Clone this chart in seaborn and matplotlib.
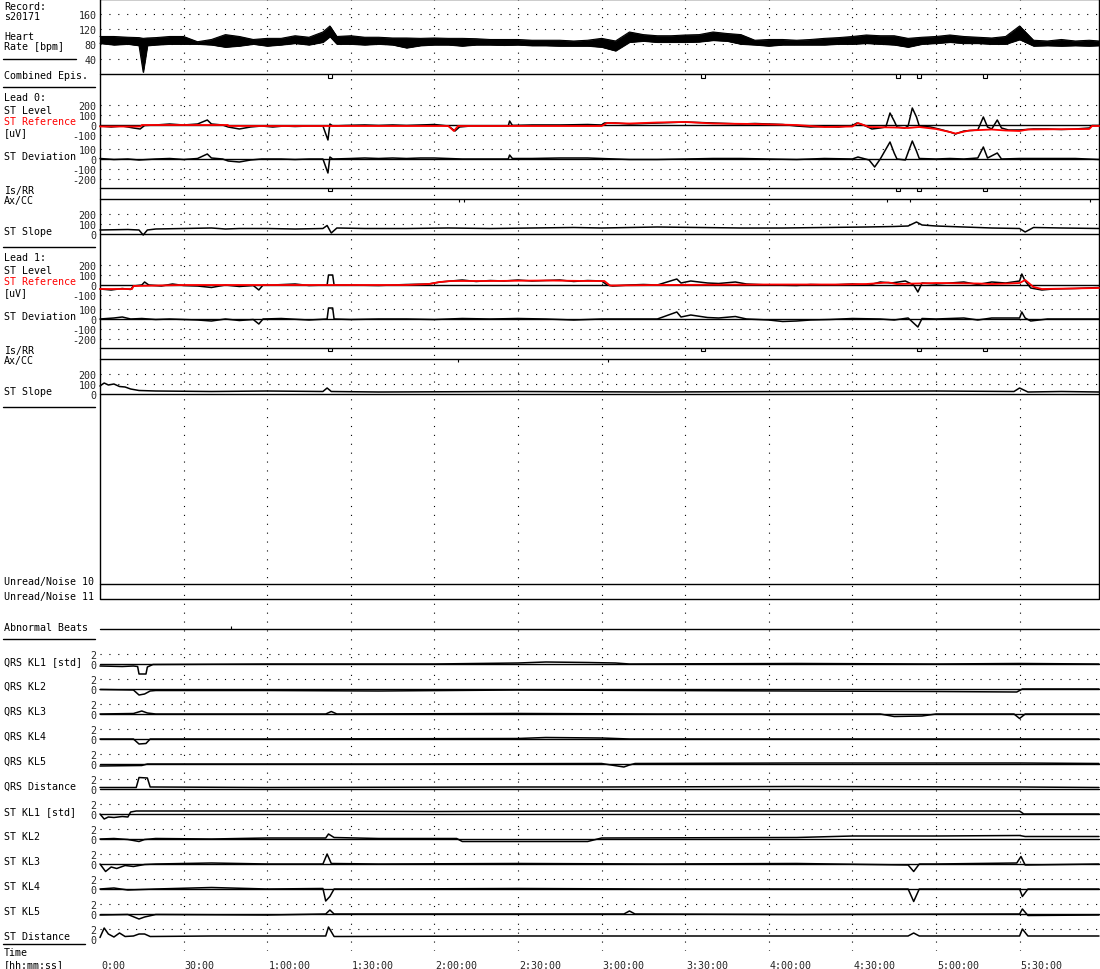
import matplotlib
matplotlib.use('Agg')
import matplotlib.pyplot as plt
import matplotlib.transforms as mtransforms
import seaborn as sns

T_END = 358.5
grid_t = [30, 60, 90, 120, 150, 180, 210, 240, 270, 300, 330]
time_labels = ['0:00', '30:00', '1:00:00', '1:30:00', '2:00:00', '2:30:00', '3:00:00',
               '3:30:00', '4:00:00', '4:30:00', '5:00:00', '5:30:00']
time_ticks = [0, 30, 60, 90, 120, 150, 180, 210, 240, 270, 300, 330]

# frequencia cardiaca (envelope minimo / maximo a cada 5 min)
hr_t = [0, 5, 10, 14, 15.5, 17, 20, 25, 30, 35, 40, 45, 50, 55, 60, 65, 70, 75, 80, 82.5,
        85, 90, 95, 100, 105, 110, 115, 120, 125, 130, 135, 140, 145, 150, 155, 160, 165,
        170, 175, 180, 185, 190, 195, 200, 205, 210, 215, 220, 225, 230, 235, 240, 245,
        250, 255, 260, 265, 270, 275, 280, 285, 290, 295, 300, 305, 310, 315, 320, 325,
        330, 335, 340, 345, 350, 355, 358.5]
hr_low = [82, 78, 80, 76, 5, 76, 78, 80, 80, 80, 78, 72, 75, 80, 75, 78, 82, 78, 85, 100,
          80, 80, 78, 80, 78, 70, 76, 78, 78, 75, 78, 78, 77, 78, 76, 76, 75,
          75, 75, 72, 62, 85, 88, 85, 85, 85, 86, 90, 88, 80, 78, 75, 78,
          78, 78, 78, 80, 80, 82, 80, 78, 72, 80, 82, 85, 82, 82, 80, 80,
          92, 75, 76, 75, 76, 75, 76]
hr_high = [100, 100, 98, 97, 95, 96, 97, 100, 100, 86, 92, 105, 100, 92, 95, 95, 102, 98, 112, 128,
           100, 102, 98, 98, 96, 96, 95, 96, 95, 95, 94, 92, 92, 92, 90, 90, 90,
           88, 90, 95, 88, 112, 105, 102, 102, 104, 105, 112, 108, 105, 90, 92, 92,
           90, 92, 95, 97, 100, 104, 102, 102, 95, 98, 100, 104, 100, 98, 96, 100,
           128, 90, 88, 92, 88, 90, 88]

# episodios
comb_ep_t = [82.5, 216.4, 286.3, 293.9, 317.5]
isrr0_t = [82.5, 286.3, 293.9, 317.5]
axcc0_t = [129.0, 130.5, 282.5, 290.6, 355.2]
isrr1_t = [82.5, 216.4, 293.9, 317.5]
axcc1_t = [128.5, 182.3]
abnormal_t = [47.0]

# Lead 0
st0_level_t = [0, 4, 8, 12, 14.4, 16, 20, 25, 30, 35, 38.5, 40, 44, 46, 50, 54, 58, 62, 66, 70,
               75, 80, 81.8, 82.5, 83.5, 88, 95, 100, 105, 110, 115, 120, 125, 127.4, 129, 133,
               140, 146.5, 147, 148, 155, 165, 175, 180, 181, 185, 190, 195, 200, 205, 210,
               215, 220, 225, 230, 235, 240, 245, 250, 255, 260, 265, 270, 271.6, 274, 277,
               279.9, 282, 283.5, 285, 286, 288.8, 290, 291.5, 293, 294, 298, 301, 305, 307,
               310, 315, 317, 318.5, 320, 322, 323.5, 326, 330, 335, 340, 345, 350, 355, 356,
               358.5]
st0_level = [-10, -20, -10, -30, -40, -5, 0, 10, 0, 10, 50, 10, 0, -20, -40, -20, -10, -20, -10, -15,
             -10, -10, -150, 10, -10, -5, 0, -5, 0, -5, 0, 5, -10, -60, -20, -10,
             -10, -10, 40, -5, 0, 0, 5, 0, 20, 20, 10, 15, 20, 25, 30,
             25, 20, 15, 10, 15, 10, 5, -10, -20, -15, -20, -5, 20, 0, -40,
             -30, -20, 120, 40, -20, -30, -10, 170, 80, -10, -20, -40, -70, -90,
             -60, -50, 80, -20, -40, 50, -30, -50, -50, -40, -40, -45, -40, -30, -5,
             -5]
st0_ref_t = [0, 14.5, 15, 45.9, 46, 125, 127, 128.5, 180, 182, 190, 200, 210, 220, 235, 250,
             260, 270, 272, 276, 285, 290, 294, 300, 305, 307, 312, 320, 325, 330, 333, 355,
             356, 358.5]
st0_ref = [-15, -15, 0, 0, -10, -10, -60, -10, -10, 20, 15, 25, 30, 15, 10, 0,
           -20, -15, 20, -20, -25, -30, -20, -40, -70, -85, -55, -45, -55, -60, -45, -40,
           -10, -10]
st0_dev_t = [0, 5, 10, 14, 20, 25, 30, 35, 38.5, 40, 44, 46, 50, 54, 58, 65, 70, 75, 80, 81.8,
             82.5, 83.5, 90, 95, 100, 105, 110, 115, 120, 125, 130, 140, 146.5, 147, 148, 155,
             165, 175, 180, 185, 190, 200, 210, 220, 230, 240, 250, 260, 270, 272, 276, 278,
             280, 283.5, 285, 286, 289, 291.5, 293, 294, 300, 305, 310, 315, 317, 318.5, 322,
             323.5, 330, 340, 350, 358.5]
st0_dev = [5, -5, 0, -10, 0, 5, -5, 5, 50, 10, 0, -20, -30, -10, 0, 0, -5, 0, 0, -140,
           20, 0, 5, 10, 5, 10, 5, 10, 10, 5, 0, 0, 0, 40, 5, 5,
           10, 10, 5, 0, -5, -5, 0, 5, 5, 0, -5, 5, 0, 20, -10, -80,
           0, 170, 60, 0, -10, 180, 80, 5, 0, 5, 0, 10, 120, 10, 60,
           0, 5, 5, 5, -5]
st0_slope_t = [0, 10, 14, 15.5, 17, 20, 30, 40, 45, 50, 60, 70, 80, 81.5, 83, 85, 95, 110, 125,
               140, 155, 170, 180, 190, 200, 215, 230, 245, 260, 275, 285, 290, 293, 295, 300,
               310, 320, 330, 332, 335, 345, 358.5]
st0_slope = [40, 45, 40, -10, 40, 50, 55, 60, 50, 55, 55, 50, 55, 85, 10, 60, 55, 55, 60,
             55, 60, 65, 60, 65, 70, 65, 60, 60, 65, 70, 75, 80, 120, 90, 80,
             70, 60, 55, 20, 65, 60, 55]

# Lead 1
st1_level_t = [0, 4, 8, 11, 12, 15, 16, 17.5, 22, 26, 30, 35, 40, 45, 50, 55, 57, 58.5, 62, 70,
               75, 81.5, 82, 83.5, 84, 90, 100, 110, 118, 122, 126, 130, 135, 140, 145, 150, 155,
               160, 165, 170, 175, 180, 182, 184, 190, 195, 200, 207, 208.5, 212, 218, 222, 228,
               232, 240, 250, 255, 262, 270, 276, 280, 284, 289, 292, 293.5, 295, 300, 305, 310,
               315, 320, 325, 330, 330.8, 332, 334, 338, 342, 350, 358.5]
st1_level = [-40, -50, -35, -45, -10, 0, 30, 0, -10, 10, -5, -10, -25, 0, -15, -5, -50, 0, 0, 10,
             -5, 0, 100, 100, 0, 0, -5, 5, 10, 30, 40, 50, 35, 45, 40, 50, 40,
             45, 50, 35, 45, 40, 0, -10, 0, 5, 0, 60, 20, 40, 20, 15, 30,
             10, 0, -5, 5, 0, 10, 0, 30, 20, 40, 0, -70, 20, 10, 20, 30,
             5, 30, 20, 40, 110, 40, -30, -50, -40, -35, -25]
st1_ref_t = [0, 11.5, 12, 30, 60, 100, 110, 118, 122, 126, 140, 160, 175, 181, 183, 200, 240,
             265, 275, 283, 286, 300, 315, 320, 326, 330, 332, 335, 338, 358.5]
st1_ref = [-40, -40, -10, 0, 0, 0, 0, 10, 30, 40, 40, 45, 40, 40, -5, 0, 5,
           5, 10, 25, 10, 20, 15, 10, 15, 20, 50, -20, -40, -30]
st1_dev_t = [0, 5, 8, 11, 15, 20, 25, 30, 35, 40, 45, 50, 55, 57, 58.5, 65, 75, 81.5, 82, 83.5,
             84, 90, 100, 110, 120, 130, 140, 150, 160, 170, 180, 190, 200, 207, 208.5, 212,
             218, 222, 228, 232, 240, 245, 250, 255, 262, 270, 280, 285, 290, 293.5, 295, 300,
             310, 315, 320, 330, 330.8, 332, 334, 340, 350, 358.5]
st1_dev = [0, 10, 20, 0, 5, -5, 0, -5, -10, -20, 0, -15, -5, -50, 0, 5, -10, 0, 110, 110,
           0, -5, 0, 0, -5, 5, 0, 5, 0, -10, 0, 0, 0, 70, 20, 40,
           15, 10, 25, 0, -10, -25, -20, -10, -5, 5, 0, -10, 10, -80, 5, 0,
           10, -10, 10, 10, 70, 10, -20, 0, 0, 0]
st1_slope_t = [0, 1.5, 3, 5, 7, 9, 11, 14, 20, 40, 60, 80, 81.5, 83, 100, 150, 200, 250, 300,
               328, 330, 333, 345, 358.5]
st1_slope = [80, 110, 90, 100, 75, 70, 50, 35, 30, 25, 30, 25, 60, 25, 20, 25, 20, 25, 30,
             25, 60, 20, 25, 20]

# series KL (em desvios padrao)
qrs_kl1_t = [0, 8, 12, 13.5, 14, 16.5, 17, 19, 60, 120, 150, 160, 175, 185, 190, 250, 300, 330, 358.5]
qrs_kl1 = [-0.4, -0.5, -0.4, -0.5, -2, -2, -0.6, -0.1, 0, 0, 0.2, 0.4, 0.3, 0.2, 0, 0.1, 0, 0.1, 0]
qrs_kl2_t = [0, 12, 14, 16, 18, 20, 60, 100, 150, 200, 250, 300, 329, 331, 358.5]
qrs_kl2 = [-0.1, -0.2, -1.2, -1.0, -0.4, -0.3, -0.3, -0.4, -0.2, -0.3, -0.4, -0.5, -0.6, 0.0, 0.0]
qrs_kl3_t = [0, 12, 15, 17, 20, 60, 81, 83, 85, 150, 200, 280, 285, 295, 300, 328, 330, 332, 358.5]
qrs_kl3 = [0, 0.1, 0.6, 0.2, 0, 0, 0, 0.5, 0, 0.1, 0, 0, -0.5, -0.4, 0, 0, -0.9, 0, 0]
qrs_kl4_t = [0, 12, 14, 16.5, 18, 60, 150, 160, 180, 190, 250, 358.5]
qrs_kl4 = [0, 0, -1, -0.9, 0, 0, 0.1, 0.3, 0.2, 0, 0, 0]
qrs_kl5_t = [0, 15, 17, 100, 180, 188, 190, 192, 250, 330, 358.5]
qrs_kl5 = [-0.4, -0.3, 0, 0, 0.1, -0.6, -0.2, 0.1, 0.2, 0.2, 0.1]
qrs_dist_t = [0, 13, 14, 17, 18, 60, 150, 180, 250, 330, 358.5]
qrs_dist = [0.3, 0.3, 2.3, 2.2, 0.4, 0.3, 0.4, 0.4, 0.5, 0.4, 0.3]
st_kl1_t = [0, 1.5, 3, 5, 8, 10, 11, 13, 60, 120, 180, 250, 330, 331.5, 358.5]
st_kl1 = [0, -1, -0.6, -0.7, -0.5, -0.6, 0.4, 0.6, 0.6, 0.5, 0.6, 0.6, 0.6, 0, 0]
st_kl2_t = [0, 5, 10, 14, 16, 20, 40, 60, 81, 82, 84, 100, 128, 130, 175, 180, 250, 270, 300,
            330, 332, 358.5]
st_kl2 = [0, 0.1, -0.1, -0.5, -0.1, 0.1, 0, 0.2, 0.2, 1.0, 0.3, 0.1, 0.1, -0.5, -0.5, 0.2, 0.3,
          0.6, 0.6, 0.7, 0.5, 0.5]
st_kl3_t = [0, 2, 4, 6, 9, 12, 16, 20, 40, 60, 80, 81.5, 83, 100, 150, 200, 250, 290, 292, 294,
            300, 329, 330.5, 332, 358.5]
st_kl3 = [0, -1.5, -0.6, -0.9, -0.3, -0.5, -0.1, 0, 0.2, 0, 0, 2.0, 0.1, 0, 0.1, 0, 0.1, -0.2,
          -1.5, 0, 0, 0.2, 1.5, -0.2, 0]
st_kl4_t = [0, 5, 10, 20, 40, 60, 80, 81, 82.5, 84, 100, 150, 200, 250, 290, 292, 294, 300, 330,
            331, 333, 358.5]
st_kl4 = [0, 0.2, -0.2, 0, 0.3, 0, 0.1, -2.4, -1.5, 0, 0, 0.1, 0, 0, 0, -2.5, 0, 0, 0, -1.5, 0, 0]
st_kl5_t = [0, 10, 14, 16, 20, 60, 81, 82.5, 84, 150, 188, 190, 192, 250, 330, 331, 333, 358.5]
st_kl5 = [-0.2, -0.1, -1, -0.6, -0.1, -0.2, 0, 0.8, 0, 0, 0, 0.6, 0, -0.1, 0, 1.0, -0.3, -0.2]
st_dist_t = [0, 1.5, 3, 5, 7, 9, 12, 14, 16, 18, 40, 81, 82, 84, 150, 250, 290, 292, 294, 330,
             331, 333, 358.5]
st_dist = [0.3, 2.2, 1.0, 0.4, 1.2, 0.5, 0.6, 1.0, 1.0, 0.5, 0.6, 0.6, 2.4, 0.5, 0.6, 0.6, 0.6,
           1.2, 0.6, 0.6, 2.0, 0.6, 0.6]

kl_names = ['QRS KL1 [std]', 'QRS KL2', 'QRS KL3', 'QRS KL4', 'QRS KL5', 'QRS Distance',
            'ST KL1 [std]', 'ST KL2', 'ST KL3', 'ST KL4', 'ST KL5', 'ST Distance']
kl_series = [(qrs_kl1_t, qrs_kl1), (qrs_kl2_t, qrs_kl2), (qrs_kl3_t, qrs_kl3),
             (qrs_kl4_t, qrs_kl4), (qrs_kl5_t, qrs_kl5), (qrs_dist_t, qrs_dist),
             (st_kl1_t, st_kl1), (st_kl2_t, st_kl2), (st_kl3_t, st_kl3),
             (st_kl4_t, st_kl4), (st_kl5_t, st_kl5), (st_dist_t, st_dist)]

# ---- estilo ----
sns.set_style('white')
plt.rcParams['font.family'] = ['DejaVu Sans Mono', 'DejaVu Sans']
FS = 7.2
LW = 1.0
GRID = dict(color='black', lw=0.8, ls=(0, (1, 7)))
W, H = 1100, 970
L, R = 100, 1099
EP_W = 1.45

fig = plt.figure(figsize=(W / 100, H / 100), dpi=100)
fig.patch.set_facecolor('white')

# eixo em pixels para rotulos e separadores
ax_pix = fig.add_axes([0, 0, 1, 1])
ax_pix.set_xlim(0, W)
ax_pix.set_ylim(H, 0)
ax_pix.axis('off')


def panel(top, bottom, ylim, yticks=()):
    ax = fig.add_axes([L / W, 1 - bottom / H, (R - L) / W, (bottom - top) / H])
    ax.set_xlim(0, T_END)
    ax.set_ylim(*ylim)
    ax.patch.set_alpha(0)
    for s in ax.spines.values():
        s.set_visible(False)
    ax.set_xticks([])
    ax.set_yticks(list(yticks))
    ax.set_yticklabels([str(v) for v in yticks])
    ax.tick_params(axis='y', length=0, pad=2.5, labelsize=FS)
    return ax


def trace(ax, t, v, color='black', lw=1.1):
    sns.lineplot(x=t, y=v, ax=ax, color=color, lw=lw, estimator=None, sort=False,
                 clip_on=False)
    ax.set_xlabel('')
    ax.set_ylabel('')


def solid(ax, y):
    ax.axhline(y, color='black', lw=LW, clip_on=False)


# grade vertical e moldura
ax_bg = panel(0, 952, (0, 1))
ax_bg.vlines(grid_t, 0, 1, **GRID)
ax_box = panel(0, 600, (0, 1))
ax_box.vlines([0, T_END], 0, 1, color='black', lw=LW, clip_on=False)

# frequencia cardiaca
ax_hr = panel(0, 75, (0, 200), [160, 120, 80, 40])
for g in (160, 120, 80, 40):
    ax_hr.axhline(g, **GRID)
ax_hr.fill_between(hr_t, hr_low, hr_high, color='black', lw=0.6)
trace(ax_hr, hr_t, hr_low, lw=0.8)
trace(ax_hr, hr_t, hr_high, lw=0.8)
solid(ax_hr, 0)
solid(ax_hr, 200)

# episodios combinados
ax_ep = panel(75, 89, (-14, 0))
ax_ep.bar(comb_ep_t, 3.5, width=EP_W, bottom=-3.5, facecolor='white', edgecolor='black', lw=0.8)


def lead_block(off, lvl_t, lvl, ref_t, ref, dev_t, dev, slp_t, slp, isrr_t, axcc_t):
    a = panel(96 + off, 143 + off, (-170, 300), [200, 100, 0, -100])
    for g in (200, 100, -100):
        a.axhline(g, **GRID)
    solid(a, 0)
    trace(a, lvl_t, lvl)
    trace(a, ref_t, ref, color='red', lw=1.3)

    d = panel(143 + off, 189 + off, (-290, 170), [100, 0, -100, -200])
    for g in (100, -100, -200):
        d.axhline(g, **GRID)
    solid(d, 0)
    trace(d, dev_t, dev)

    e = panel(189 + off, 200 + off, (-11, 0))
    solid(e, 0)
    solid(e, -11)
    e.bar(isrr_t, 3, width=EP_W, bottom=-3, facecolor='white', edgecolor='black', lw=0.8)
    e.vlines(axcc_t, -14, -11, color='black', lw=0.8, clip_on=False)

    s = panel(200 + off, 235 + off, (0, 350), [200, 100, 0])
    for g in (200, 100):
        s.axhline(g, **GRID)
    solid(s, 0)
    trace(s, slp_t, slp)


lead_block(0, st0_level_t, st0_level, st0_ref_t, st0_ref, st0_dev_t, st0_dev,
           st0_slope_t, st0_slope, isrr0_t, axcc0_t)
lead_block(160, st1_level_t, st1_level, st1_ref_t, st1_ref, st1_dev_t, st1_dev,
           st1_slope_t, st1_slope, isrr1_t, axcc1_t)

# ruido / batimentos anormais
ax_n = panel(585, 600, (0, 15))
solid(ax_n, 15)
solid(ax_n, 0)
ax_ab = panel(600, 630, (0, 30))
solid(ax_ab, 0)
ax_ab.vlines(abnormal_t, 0, 3, color='black', lw=0.8)

# paineis KL
for i, (name, (kt, kv)) in enumerate(zip(kl_names, kl_series)):
    zero = 665 + 25 * i
    k = panel(zero - 15, zero + 10, (-2, 3), [2, 0])
    k.axhline(2, **GRID)
    if i < len(kl_names) - 1:
        solid(k, 0)
    trace(k, kt, kv)

# rotulos da coluna esquerda
labels = [('Record:', 6, 'black'), ('s20171', 16.5, 'black'), ('Heart', 36, 'black'),
          ('Rate [bpm]', 46.5, 'black'), ('Combined Epis.', 75.5, 'black')]
for off, n in ((0, 0), (160, 1)):
    labels += [('Lead %d:' % n, 97.5 + off, 'black'), ('ST Level', 110.5 + off, 'black'),
               ('ST Reference', 121.5 + off, 'red'), ('[uV]', 132 + off, 'black'),
               ('ST Deviation', 156 + off, 'black'), ('Is/RR', 190 + off, 'black'),
               ('Ax/CC', 200.5 + off, 'black'), ('ST Slope', 231 + off, 'black')]
labels += [('Unread/Noise 10', 581, 'black'), ('Unread/Noise 11', 596, 'black'),
           ('Abnormal Beats', 627, 'black')]
for i, name in enumerate(kl_names):
    labels.append((name, 661 + 25 * i, 'black'))
labels += [('Time', 952.5, 'black'), ('[hh:mm:ss]', 964.5, 'black')]
for txt, yc, col in labels:
    ax_pix.text(4, yc + 3.7, txt, ha='left', va='baseline', fontsize=FS, color=col)

for x0, x1, y in [(3, 76, 60), (3, 95, 88), (3, 95, 248), (3, 95, 408), (3, 95, 640),
                  (3, 85, 945)]:
    ax_pix.plot([x0, x1], [y, y], color='black', lw=LW)

# rotulos de tempo
tr = mtransforms.blended_transform_factory(ax_bg.transData, ax_pix.transData)
for t, lab in zip(time_ticks, time_labels):
    ax_bg.text(t + 0.4, 969.5, lab, transform=tr, ha='left', va='baseline', fontsize=FS,
               clip_on=False)

fig.savefig('out.png', dpi=100, facecolor='white')
